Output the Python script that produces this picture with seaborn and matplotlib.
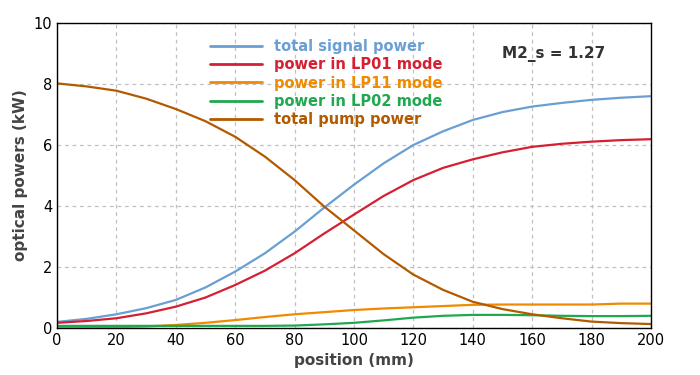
import numpy as np
import pandas as pd
import matplotlib
matplotlib.use('Agg')
import matplotlib.pyplot as plt
import seaborn as sns

# position along the fibre (mm)
position = [0, 10, 20, 30, 40, 50, 60, 70, 80, 90, 100,
            110, 120, 130, 140, 150, 160, 170, 180, 190, 200]

# optical powers (kW)
signal_total = [0.20, 0.30, 0.45, 0.65, 0.92, 1.33, 1.85, 2.45, 3.16, 3.95, 4.70,
                5.40, 6.00, 6.45, 6.82, 7.08, 7.26, 7.38, 7.48, 7.55, 7.60]
lp01 = [0.17, 0.23, 0.32, 0.48, 0.70, 1.00, 1.41, 1.88, 2.45, 3.10, 3.72,
        4.33, 4.85, 5.25, 5.53, 5.76, 5.94, 6.04, 6.11, 6.16, 6.19]
lp11 = [0.02, 0.02, 0.03, 0.05, 0.10, 0.17, 0.26, 0.36, 0.45, 0.52, 0.59,
        0.64, 0.68, 0.72, 0.76, 0.77, 0.77, 0.77, 0.77, 0.80, 0.80]
lp02 = [0.07, 0.07, 0.07, 0.07, 0.07, 0.07, 0.07, 0.07, 0.08, 0.12, 0.17,
        0.25, 0.34, 0.40, 0.43, 0.43, 0.42, 0.40, 0.39, 0.39, 0.40]
pump_total = [8.02, 7.92, 7.78, 7.52, 7.18, 6.78, 6.27, 5.62, 4.85, 3.98, 3.20,
              2.42, 1.75, 1.25, 0.86, 0.62, 0.45, 0.32, 0.21, 0.16, 0.13]

labels = ['total signal power', 'power in LP01 mode', 'power in LP11 mode',
          'power in LP02 mode', 'total pump power']
colors = ['#6a9fd4', '#d42032', '#f08a00', '#20a850', '#b35a00']

df = pd.DataFrame({'position': position,
                   labels[0]: signal_total, labels[1]: lp01, labels[2]: lp11,
                   labels[3]: lp02, labels[4]: pump_total})
long = df.melt(id_vars='position', var_name='series', value_name='power')

sns.set_style('white')
plt.rcParams['font.family'] = ['DejaVu Sans']

fig = plt.figure(figsize=(7, 3.75), dpi=100)
ax = fig.add_axes([0.0814, 0.1253, 0.8486, 0.8134])

sns.lineplot(data=long, x='position', y='power', hue='series',
             hue_order=labels, palette=colors, linewidth=1.6, ax=ax)

ax.set_xlim(0, 200)
ax.set_ylim(0, 10)
ax.set_xticks(range(0, 201, 20))
ax.set_yticks(range(0, 11, 2))
ax.grid(True, color='#c0c0c0', linestyle=(0, (3, 3)), linewidth=0.9)
ax.tick_params(direction='in', length=4, labelsize=10.5, colors='black')
for s in ax.spines.values():
    s.set_color('black')
    s.set_linewidth(1.0)

ax.set_xlabel('position (mm)', fontsize=11, fontweight='bold', color='#444444')
ax.set_ylabel('optical powers (kW)', fontsize=11, fontweight='bold', color='#444444')

leg = ax.legend(loc='upper left', bbox_to_anchor=(0.235, 0.99), frameon=False,
                labelcolor='linecolor', handlelength=3.6, handletextpad=0.8,
                labelspacing=0.22, prop={'weight': 'bold', 'size': 10.5})
for line in leg.get_lines():
    line.set_linewidth(2.0)

ax.text(0.75, 0.885, 'M2_s = 1.27', transform=ax.transAxes,
        fontsize=11, fontweight='bold', color='#333333')

fig.savefig('out.png', dpi=100)
